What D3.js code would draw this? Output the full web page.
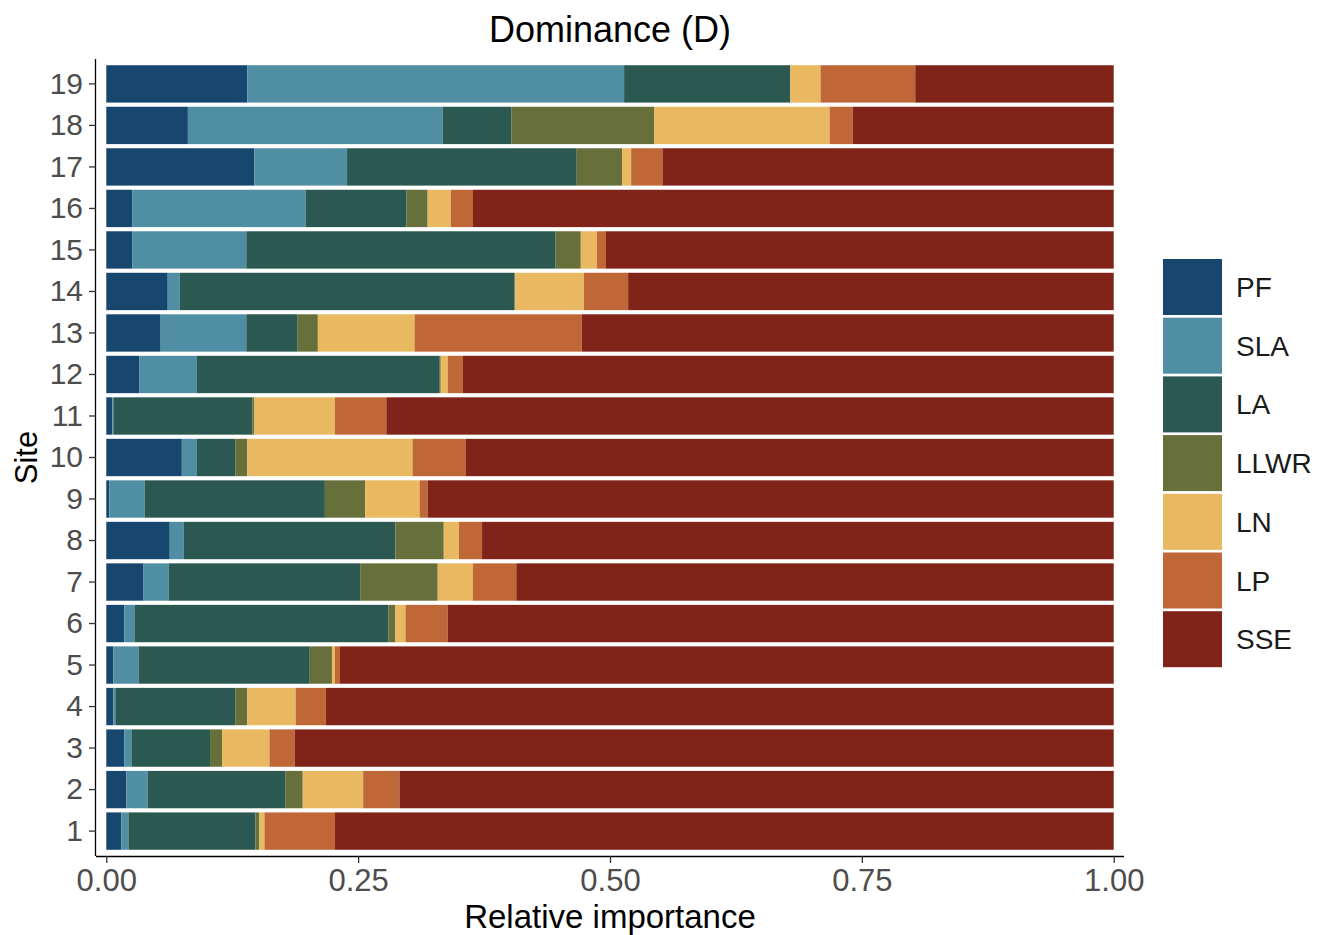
<!DOCTYPE html>
<html>
<head>
<meta charset="utf-8">
<script src="https://cdn.jsdelivr.net/npm/d3@7/dist/d3.min.js"></script>
<style>
  html, body { margin: 0; padding: 0; background: #ffffff; }
  svg { display: block; }
  text { font-family: "Liberation Sans", Arial, Helvetica, sans-serif; }
</style>
</head>
<body>
<svg id="chart" width="1325" height="935"></svg>
<script>
// Sites, bottom (1) to top (19)
const sites = ["1","2","3","4","5","6","7","8","9","10","11","12","13","14","15","16","17","18","19"];

// Relative importance of each predictor per site (sites 1..19)
const PF   = [0.015,0.020,0.018,0.007,0.007,0.018,0.037,0.063,0.003,0.075,0.006,0.033,0.054,0.061,0.026,0.026,0.147,0.081,0.140];
const SLA  = [0.007,0.021,0.007,0.002,0.025,0.010,0.025,0.014,0.035,0.015,0.001,0.057,0.085,0.012,0.113,0.172,0.092,0.253,0.374];
const LA   = [0.126,0.137,0.078,0.119,0.170,0.252,0.190,0.210,0.179,0.038,0.138,0.241,0.051,0.332,0.307,0.100,0.228,0.068,0.165];
const LLWR = [0.004,0.017,0.012,0.012,0.022,0.007,0.077,0.048,0.040,0.012,0.002,0.001,0.020,0.001,0.025,0.021,0.045,0.142,0.000];
const LN   = [0.005,0.060,0.047,0.048,0.003,0.010,0.035,0.015,0.054,0.164,0.080,0.007,0.096,0.068,0.016,0.023,0.009,0.174,0.030];
const LP   = [0.070,0.036,0.025,0.030,0.005,0.042,0.043,0.023,0.008,0.053,0.051,0.015,0.166,0.044,0.009,0.022,0.031,0.023,0.094];
const SSE  = [0.773,0.709,0.813,0.782,0.768,0.661,0.593,0.627,0.681,0.643,0.722,0.646,0.528,0.482,0.504,0.636,0.448,0.259,0.197];

const seriesNames = ["PF","SLA","LA","LLWR","LN","LP","SSE"];
const seriesColors = ["#17476F","#508FA3","#2C5852","#67703A","#E8B960","#C06738","#80241A"];
const xTicks = [0, 0.25, 0.5, 0.75, 1];

const seriesValues = { PF, SLA, LA, LLWR, LN, LP, SSE };
const rows = sites.map((s, i) => {
  const r = { site: s };
  seriesNames.forEach(k => { r[k] = seriesValues[k][i]; });
  return r;
});

const svg = d3.select("#chart");

// Panel extents
const panel = { left: 96, right: 1124, top: 59, bottom: 856 };

const x = d3.scaleLinear().domain([-0.0102, 1.0102]).range([panel.left, panel.right]);
const y = d3.scaleBand()
  .domain(sites.slice().reverse())
  .range([panel.top, panel.bottom])
  .paddingInner(0.1)
  .paddingOuter(0.15);

const color = d3.scaleOrdinal().domain(seriesNames).range(seriesColors);

const stacked = d3.stack().keys(seriesNames)(rows);

// Stacked bars
svg.append("g")
  .selectAll("g")
  .data(stacked)
  .join("g")
  .attr("fill", d => color(d.key))
  .selectAll("rect")
  .data(d => d)
  .join("rect")
  .attr("x", d => x(d[0]))
  .attr("y", d => y(d.data.site))
  .attr("width", d => Math.max(0, x(d[1]) - x(d[0])))
  .attr("height", y.bandwidth());

// X axis
const xAxis = svg.append("g")
  .attr("transform", `translate(0,${panel.bottom})`)
  .call(d3.axisBottom(x).tickValues(xTicks).tickFormat(d3.format(".2f")).tickSize(7).tickPadding(6).tickSizeOuter(0));
xAxis.select(".domain").attr("stroke", "#000").attr("stroke-width", 1.3)
  .attr("d", `M${panel.left},0.5H${panel.right}`);
xAxis.selectAll(".tick line").attr("stroke", "#333").attr("stroke-width", 1.3);
xAxis.selectAll(".tick text")
  .attr("font-size", 31).attr("fill", "#4D4D4D")
  .attr("font-family", "'Liberation Sans', Arial, sans-serif");

// Y axis
const yAxis = svg.append("g")
  .attr("transform", `translate(${panel.left},0)`)
  .call(d3.axisLeft(y).tickSize(7).tickPadding(6).tickSizeOuter(0));
yAxis.select(".domain").attr("stroke", "#000").attr("stroke-width", 1.3)
  .attr("d", `M-0.5,${panel.top}V${panel.bottom}`);
yAxis.selectAll(".tick line").attr("stroke", "#333").attr("stroke-width", 1.3);
yAxis.selectAll(".tick text")
  .attr("font-size", 30).attr("fill", "#4D4D4D")
  .attr("font-family", "'Liberation Sans', Arial, sans-serif");

// Titles
const midX = (panel.left + panel.right) / 2;
svg.append("text")
  .attr("x", midX).attr("y", 42)
  .attr("text-anchor", "middle")
  .attr("font-size", 36).attr("fill", "#000")
  .text("Dominance (D)");

svg.append("text")
  .attr("x", midX).attr("y", 928)
  .attr("text-anchor", "middle")
  .attr("font-size", 33).attr("fill", "#000")
  .text("Relative importance");

svg.append("text")
  .attr("transform", `translate(37,${(panel.top + panel.bottom) / 2}) rotate(-90)`)
  .attr("text-anchor", "middle")
  .attr("font-size", 31).attr("fill", "#000")
  .text("Site");

// Legend
const legend = svg.append("g").attr("transform", "translate(1163,259)");
const keyStep = 58.7, keyH = 56, keyW = 59;
const items = legend.selectAll("g")
  .data(seriesNames)
  .join("g")
  .attr("transform", (d, i) => `translate(0,${i * keyStep})`);
items.append("rect")
  .attr("width", keyW).attr("height", keyH)
  .attr("fill", d => color(d));
items.append("text")
  .attr("x", keyW + 14).attr("y", keyH / 2)
  .attr("dy", "0.36em")
  .attr("font-size", 28).attr("fill", "#1A1A1A")
  .text(d => d);
</script>
</body>
</html>
